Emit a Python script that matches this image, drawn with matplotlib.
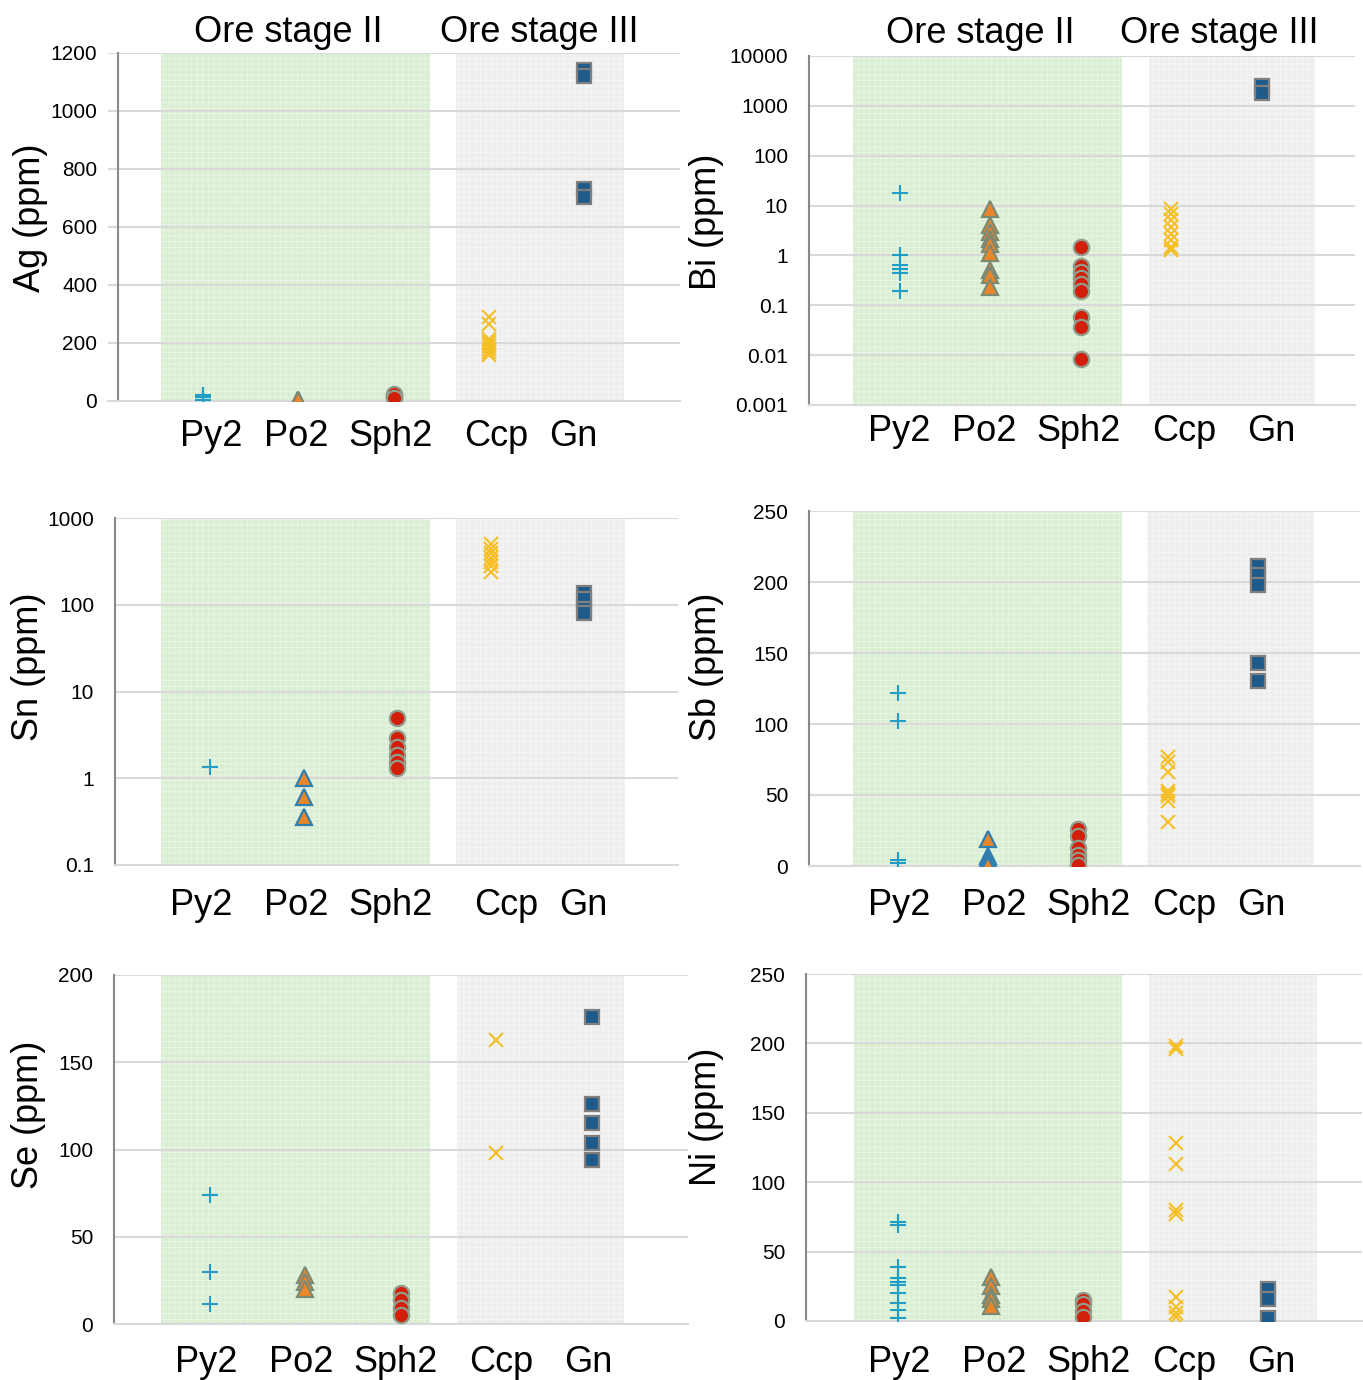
import matplotlib.pyplot as plt
from matplotlib import ticker

plt.rcParams['font.family'] = ['Liberation Sans', 'DejaVu Sans']
plt.rcParams['hatch.linewidth'] = 0.5

W, H = 1363, 1380

minerals = ["Py2", "Po2", "Sph2", "Ccp", "Gn"]
stages = ["Ore stage II", "Ore stage III"]

# values, ppm
ag = {
    "Py2": [20, 15, 3, 2],
    "Po2": [2, 3, 4, 5],
    "Sph2": [10, 15, 20, 25, 12],
    "Ccp": [290, 265, 215, 205, 200, 190, 180, 170, 160],
    "Gn": [1140, 1120, 730, 705],
}
bi = {
    "Py2": [18, 1.0, 0.63, 0.54, 0.45, 0.19],
    "Po2": [8.7, 4.0, 2.9, 2.1, 1.7, 1.1, 0.5, 0.4, 0.23],
    "Sph2": [1.5, 0.6, 0.46, 0.36, 0.27, 0.19, 0.057, 0.036, 0.0083],
    "Ccp": [8.7, 6.9, 5.1, 3.7, 2.7, 2.0, 1.5, 1.3],
    "Gn": [2500, 1800],
}
sn = {
    "Py2": [1.35],
    "Po2": [1.0, 0.6, 0.36],
    "Sph2": [4.9, 2.9, 2.3, 1.85, 1.55, 1.3],
    "Ccp": [500, 440, 390, 350, 310, 280, 240],
    "Gn": [135, 115, 90, 80],
}
sb = {
    "Py2": [122, 102, 4, 2],
    "Po2": [19, 7, 5, 2, 0.5],
    "Sph2": [26, 21, 13, 8, 4, 1],
    "Ccp": [77, 73, 66, 53, 51, 49, 46, 31],
    "Gn": [211, 205, 198, 143, 130],
}
se = {
    "Py2": [74, 30, 11.5],
    "Po2": [28, 24, 20],
    "Sph2": [18, 14, 9, 5],
    "Ccp": [163, 98],
    "Gn": [176, 126, 115, 104, 94],
}
ni = {
    "Py2": [71, 69, 39, 31, 28, 26, 20, 13, 8, 2.5],
    "Po2": [32, 25, 19, 16, 11],
    "Sph2": [15, 12, 7, 3],
    "Ccp": [198, 196, 128, 113, 80, 77, 17, 10, 6, 3],
    "Gn": [23, 16, 2],
}

# layout of each panel in reference pixels: box = (left, top, right, bottom)
# names = pixel centres of the category names under each panel
panels = [
    dict(data=ag, label="Ag (ppm)", box=(108, 53, 680, 401), xlim=(0.0, 6.01),
         log=False, ylim=(0, 1200), yticks=[0, 200, 400, 600, 800, 1000, 1200],
         green=(0.56, 3.38), gray=(3.66, 5.42), spine=0.105, pad=13,
         names=[211, 296, 391, 496, 573],
         lab=(30, 218), po2_edge="#7d8a73", title_off=15),
    dict(data=bi, label="Bi (ppm)", box=(809, 56, 1355, 405), xlim=(-0.006, 6.03),
         log=True, ylim=(0.001, 10000),
         yticks=[0.001, 0.01, 0.1, 1, 10, 100, 1000, 10000],
         green=(0.48, 3.45), gray=(3.75, 5.59), spine=None, pad=6.5,
         names=[899, 984, 1079, 1184, 1271],
         lab=(707, 222), po2_edge="#7d8a73", title_off=16),
    dict(data=sn, label="Sn (ppm)", box=(115, 518, 678, 865), xlim=(-0.016, 6.0),
         log=True, ylim=(0.1, 1000), yticks=[0.1, 1, 10, 100, 1000],
         green=(0.48, 3.35), gray=(3.63, 5.43), spine=None, pad=16.5,
         names=[201, 296, 391, 506, 583],
         lab=(28, 667), po2_edge="#2f7fb0", title_off=None),
    dict(data=sb, label="Sb (ppm)", box=(809, 511, 1360, 866), xlim=(0.008, 6.13),
         log=False, ylim=(0, 250), yticks=[0, 50, 100, 150, 200, 250],
         green=(0.50, 3.49), gray=(3.76, 5.62), spine=None, pad=15.5,
         names=[899, 994, 1089, 1184, 1261],
         lab=(707, 667), po2_edge="#2f7fb0", title_off=None),
    dict(data=se, label="Se (ppm)", box=(114, 975, 688, 1324), xlim=(-0.006, 6.01),
         log=False, ylim=(0, 200), yticks=[0, 50, 100, 150, 200],
         green=(0.49, 3.31), gray=(3.59, 5.34), spine=None, pad=15,
         names=[206, 301, 396, 501, 588],
         lab=(28, 1115), po2_edge="#7d8a73", title_off=None),
    dict(data=ni, label="Ni (ppm)", box=(806, 974, 1362, 1321), xlim=(0.006, 6.01),
         log=False, ylim=(0, 250), yticks=[0, 50, 100, 150, 200, 250],
         green=(0.52, 3.42), gray=(3.71, 5.52), spine=None, pad=17,
         names=[899, 994, 1089, 1184, 1271],
         lab=(707, 1117), po2_edge="#7d8a73", title_off=None),
]

styles = {
    "Py2": dict(marker="+", markersize=11, markeredgewidth=1.5, color="#1f9fc6"),
    "Po2": dict(marker="^", markersize=12, markeredgewidth=1.6, markerfacecolor="#e8862a"),
    "Sph2": dict(marker="o", markersize=11, markeredgewidth=1.6,
                 markerfacecolor="#d21f0a", markeredgecolor="#909c8c"),
    "Ccp": dict(marker="x", markersize=10, markeredgewidth=1.5, color="#f6bf26"),
    "Gn": dict(marker="s", markersize=10.5, markeredgewidth=1.6,
               markerfacecolor="#1f5b8a", markeredgecolor="#7f7f7f"),
}

fig = plt.figure(figsize=(W / 100, H / 100), dpi=100)

for p in panels:
    l, t, r, b = p["box"]
    x0, x1 = p["xlim"]
    ax = fig.add_axes([l / W, 1 - b / H, (r - l) / W, (b - t) / H])

    ax.axvspan(*p["green"], facecolor="#d9eed3", edgecolor="#eef8ea",
               hatch="+++", lw=0, zorder=1)
    ax.axvspan(*p["gray"], facecolor="#eeeeee", edgecolor="#f8f8f8",
               hatch="+++", lw=0, zorder=1)

    for i, m in enumerate(minerals):
        vals = p["data"][m]
        st = dict(styles[m])
        if m == "Po2":
            st["markeredgecolor"] = p["po2_edge"]
        ax.plot([i + 1] * len(vals), vals, linestyle="none", zorder=3, **st)

    if p["log"]:
        ax.set_yscale("log")
    ax.set_ylim(*p["ylim"])
    ax.set_xlim(x0, x1)
    ax.yaxis.set_major_locator(ticker.FixedLocator(p["yticks"]))
    ax.yaxis.set_major_formatter(ticker.FuncFormatter(lambda v, _: f"{v:g}"))
    ax.yaxis.set_minor_locator(ticker.NullLocator())
    name_x = [x0 + (px - l) / (r - l) * (x1 - x0) for px in p["names"]]
    ax.set_xticks(name_x, minerals)

    ax.tick_params(axis="x", length=0, pad=p["pad"], labelsize=26)
    ax.tick_params(axis="y", length=0, pad=15, labelsize=15)
    ax.yaxis.grid(True, color="#d9d9d9", lw=1.5)
    ax.set_axisbelow("line")

    for s in ["top", "right"]:
        ax.spines[s].set_visible(False)
    ax.spines["left"].set_color("#898989")
    ax.spines["left"].set_linewidth(1.5)
    if p["spine"] is not None:
        ax.spines["left"].set_position(("data", p["spine"]))
    ax.spines["bottom"].set_color("#d9d9d9")
    ax.spines["bottom"].set_linewidth(1.5)

    if p["title_off"] is not None:
        for x, txt in zip([1.89, 4.53], stages):
            ax.annotate(txt, xy=(x, 1), xycoords=("data", "axes fraction"),
                        xytext=(0, p["title_off"]), textcoords="offset points",
                        ha="center", va="center", fontsize=26)

    lx, ly = p["lab"]
    fig.text(lx / W, 1 - ly / H, p["label"], rotation=90, ha="center",
             va="center", fontsize=26)

fig.savefig("out.png", dpi=100)
